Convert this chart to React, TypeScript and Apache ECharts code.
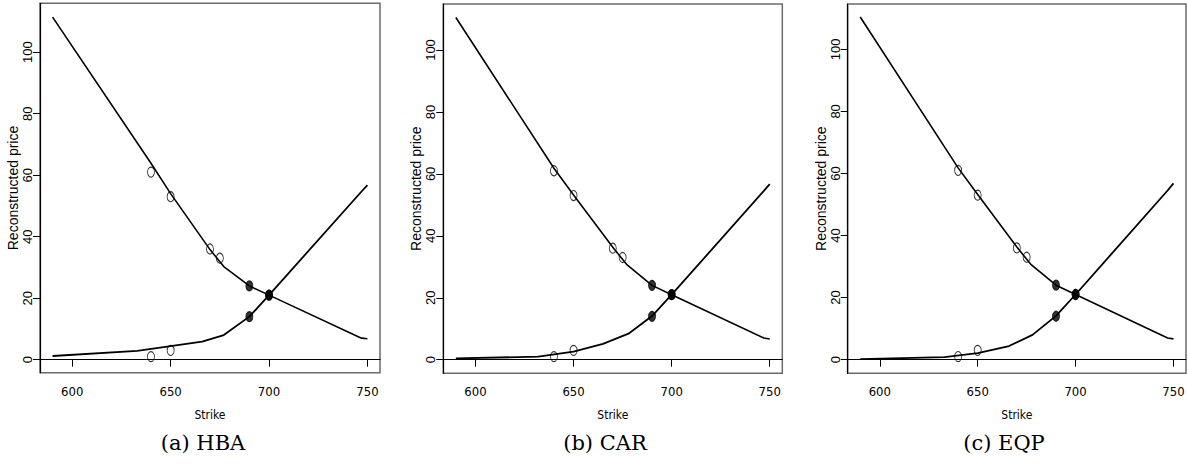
import React, { useEffect, useRef } from "react";
import * as echarts from "echarts";

// ---- data ----
const panelCaptions = ["(a) HBA", "(b) CAR", "(c) EQP"];
const xTickValues = [600, 650, 700, 750];
const yTickValues = [0, 20, 40, 60, 80, 100];

// reconstructed put curves [strike, price]
const hbaPutCurve = [[590, 111.4], [640, 63.9], [650, 54.0], [670, 35.8], [677, 30.3], [690, 24.0], [700, 21.0], [747, 7.0], [750, 6.8]];
const carPutCurve = [[590, 110.5], [640, 61.8], [650, 53.2], [670, 36.3], [677, 30.8], [690, 24.0], [700, 21.0], [747, 7.0], [750, 6.7]];
const eqpPutCurve = [[590, 110.4], [640, 61.8], [650, 53.2], [670, 36.3], [677, 30.8], [690, 24.0], [700, 21.0], [747, 7.0], [750, 6.7]];

// reconstructed call curves [strike, price]
const hbaCallCurve = [[590, 1.2], [633, 2.9], [666, 5.9], [677, 8.0], [690, 14.0], [700, 21.0], [747, 54.7], [750, 56.8]];
const carCallCurve = [[590, 0.4], [632, 1.0], [650, 2.6], [665, 5.1], [678, 8.4], [690, 14.1], [700, 21.0], [747, 54.5], [750, 56.7]];
const eqpCallCurve = [[590, 0.2], [633, 0.8], [650, 2.1], [666, 4.4], [678, 8.0], [690, 14.1], [700, 21.0], [747, 54.5], [750, 56.8]];

// observed prices
const openPutPoints = [[640, 61], [650, 53], [670, 36], [675, 33]];
const openCallPoints = [[640, 1], [650, 3]];
const filledPutPoints = [[690, 24], [700, 21]];
const filledCallPoints = [[690, 14], [700, 21]];

const putCurves = [hbaPutCurve, carPutCurve, eqpPutCurve];
const callCurves = [hbaCallCurve, carCallCurve, eqpCallCurve];
const yRanges = [[-4.23, 115.9], [-4.39, 114.85], [-4.39, 114.6]];
const xRange = [583.6, 756.4];

// ---- layout ----
const grids = [
  { left: 40, top: 3.3, width: 340, height: 369.4 },
  { left: 443.3, top: 4, width: 339, height: 369.3 },
  { left: 847.7, top: 4, width: 338.3, height: 369.3 },
];
const captionX = [203, 605, 1004];

export default function App() {
  const ref = useRef<HTMLDivElement>(null);
  useEffect(() => {
    if (!ref.current) return;
    const chart = echarts.init(ref.current, undefined, { renderer: "svg" });
    const narrow = "'Liberation Sans Narrow', 'DejaVu Sans Condensed', sans-serif";
    const sans = "'Liberation Sans', Arial, sans-serif";

    const xAxis: any[] = [];
    const yAxis: any[] = [];
    const series: any[] = [];
    const gridOpt: any[] = [];
    const graphics: any[] = [];

    for (let i = 0; i < 3; i++) {
      gridOpt.push({ ...grids[i], show: true, borderColor: "#6a6a6a", borderWidth: 1.5, containLabel: false });
      xAxis.push({
        type: "value",
        gridIndex: i,
        min: xRange[0],
        max: xRange[1],
        name: "Strike",
        nameLocation: "middle",
        nameGap: 36,
        nameTextStyle: { fontFamily: narrow, fontSize: 12, color: "#000" },
        axisLine: { show: true, lineStyle: { color: "#000", width: 1.2 } },
        axisTick: { show: true, length: 7, customValues: xTickValues, lineStyle: { color: "#000", width: 1 } },
        axisLabel: { customValues: xTickValues, margin: 12, fontFamily: narrow, fontSize: 13, color: "#000" },
        splitLine: { show: false },
      });
      yAxis.push({
        type: "value",
        gridIndex: i,
        min: yRanges[i][0],
        max: yRanges[i][1],
        name: "Reconstructed price",
        nameLocation: "middle",
        nameGap: 18,
        nameTextStyle: { fontFamily: sans, fontSize: 14, color: "#000" },
        axisLine: { show: true, lineStyle: { color: "#000", width: 1.2 } },
        axisTick: { show: true, length: 7, customValues: yTickValues, lineStyle: { color: "#000", width: 1 } },
        axisLabel: { customValues: yTickValues, rotate: 90, margin: 6, fontFamily: sans, fontSize: 13, color: "#000" },
        splitLine: { show: false },
      });
      series.push({
        type: "line",
        xAxisIndex: i,
        yAxisIndex: i,
        data: putCurves[i],
        showSymbol: false,
        lineStyle: { color: "#000", width: 1.6 },
        z: 3,
      });
      series.push({
        type: "line",
        xAxisIndex: i,
        yAxisIndex: i,
        data: callCurves[i],
        showSymbol: false,
        lineStyle: { color: "#000", width: 1.8 },
        z: 3,
      });
      series.push({
        type: "scatter",
        xAxisIndex: i,
        yAxisIndex: i,
        data: [...openPutPoints, ...openCallPoints],
        symbol: "circle",
        symbolSize: [7, 10],
        itemStyle: { color: "rgba(255,255,255,0)", borderColor: "#000", borderWidth: 1 },
        z: 4,
      });
      series.push({
        type: "scatter",
        xAxisIndex: i,
        yAxisIndex: i,
        data: [...filledPutPoints, ...filledCallPoints],
        symbol: "circle",
        symbolSize: [7, 10],
        itemStyle: { color: "#000", borderColor: "#000", borderWidth: 1 },
        z: 5,
      });
      graphics.push({
        type: "text",
        x: captionX[i],
        y: 443,
        style: {
          text: panelCaptions[i],
          fill: "#000",
          font: "21px 'DejaVu Serif', 'Liberation Serif', serif",
          textAlign: "center",
          textVerticalAlign: "middle",
        },
      });
    }

    chart.setOption({
      animation: false,
      backgroundColor: "#fff",
      grid: gridOpt,
      xAxis,
      yAxis,
      series,
      graphic: graphics,
    });
    return () => chart.dispose();
  }, []);

  return (
    <div
      ref={ref}
      style={{ position: "fixed", left: 0, top: 0, width: 1188, height: 476 }}
    />
  );
}
